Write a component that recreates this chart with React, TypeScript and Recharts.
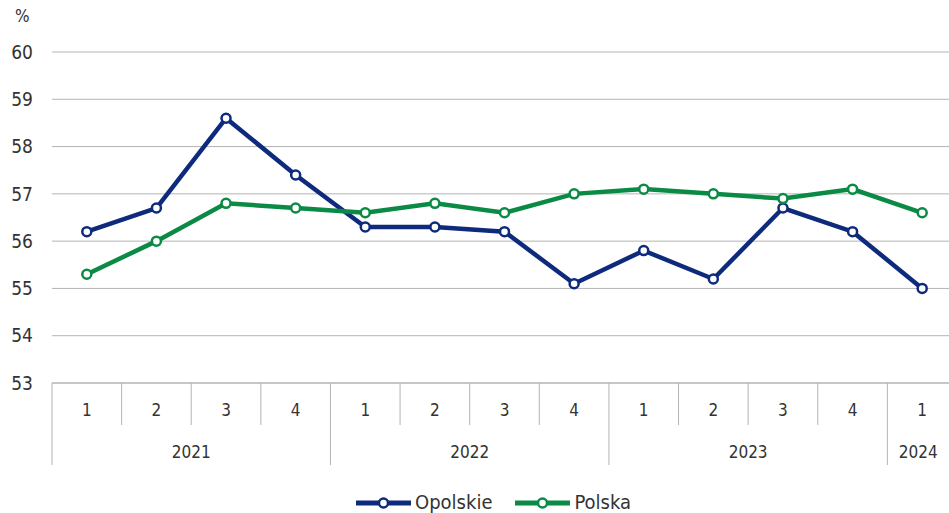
import React from 'react';
import { LineChart, Line, XAxis, YAxis, CartesianGrid } from 'recharts';

const quarters = ['1', '2', '3', '4', '1', '2', '3', '4', '1', '2', '3', '4', '1'];
const years = ['2021', '2021', '2021', '2021', '2022', '2022', '2022', '2022', '2023', '2023', '2023', '2023', '2024'];
const opolskie = [56.2, 56.7, 58.6, 57.4, 56.3, 56.3, 56.2, 55.1, 55.8, 55.2, 56.7, 56.2, 55.0];
const polska = [55.3, 56.0, 56.8, 56.7, 56.6, 56.8, 56.6, 57.0, 57.1, 57.0, 56.9, 57.1, 56.6];
const yTicks = [53, 54, 55, 56, 57, 58, 59, 60];

const W = 949;
const H = 513;
const CHART_W = 957; // plot runs slightly past the right edge, as in the source
const PLOT_LEFT = 52;
const PLOT_TOP = 52;
const PLOT_BOTTOM = 383;
const BAND = (CHART_W - PLOT_LEFT) / quarters.length;

const NAVY = '#0d2a7d';
const GREEN = '#0a8a45';
const GRID = '#b4b4b4';
const TEXT = '#333333';
const FONT = "'DejaVu Sans Condensed', 'Liberation Sans Narrow', sans-serif";

const data = quarters.map((q, i) => ({
  key: `${years[i]}-${q}-${i}`,
  q,
  year: years[i],
  opolskie: opolskie[i],
  polska: polska[i],
}));

// two-level axis: quarter numbers on top, years underneath
const QuarterTick = (props: any) => {
  const { x, payload } = props;
  const i = payload.index;
  const left = x - BAND / 2;
  const newYear = i === 0 || years[i] !== years[i - 1];
  const items: React.ReactNode[] = [];
  items.push(
    <line key="sep" x1={left} x2={left} y1={PLOT_BOTTOM} y2={newYear ? 465 : 425} stroke={GRID} strokeWidth={1} />
  );
  items.push(
    <text key="q" x={x} y={416} textAnchor="middle" fontSize={17} fill={TEXT} fontFamily={FONT}>
      {quarters[i]}
    </text>
  );
  if (newYear) {
    let n = 0;
    while (i + n < years.length && years[i + n] === years[i]) n++;
    // last year block is clipped by the window edge, so centre it in the visible part
    const right = Math.min(left + n * BAND, W);
    const cx = (left + right) / 2;
    items.push(
      <text key="y" x={cx} y={458} textAnchor="middle" fontSize={17} fill={TEXT} fontFamily={FONT}>
        {years[i]}
      </text>
    );
  }
  return <g>{items}</g>;
};

const LegendItem = ({ color, label }: { color: string; label: string }) => (
  <span style={{ display: 'inline-flex', alignItems: 'center', marginRight: 22 }}>
    <svg width={57} height={14} style={{ marginRight: 3 }}>
      <line x1={1} x2={56} y1={7} y2={7} stroke={color} strokeWidth={5} />
      <circle cx={28.5} cy={7} r={4.5} fill="#fff" stroke={color} strokeWidth={2.5} />
    </svg>
    <span>{label}</span>
  </span>
);

export default function App() {
  return (
    <div
      style={{
        position: 'absolute',
        left: 0,
        top: 0,
        width: W,
        height: H,
        overflow: 'hidden',
        background: '#fff',
        fontFamily: FONT,
      }}
    >
      <div style={{ position: 'absolute', left: 15, top: 6, fontSize: 17, color: TEXT }}>%</div>
      <LineChart
        width={CHART_W}
        height={H}
        data={data}
        margin={{ top: PLOT_TOP, right: 0, bottom: H - PLOT_BOTTOM - 90, left: 0 }}
      >
        <CartesianGrid vertical={false} stroke={GRID} strokeWidth={1} />
        <XAxis
          dataKey="key"
          height={90}
          interval={0}
          padding={{ left: BAND / 2, right: BAND / 2 }}
          axisLine={{ stroke: GRID }}
          tickLine={false}
          tick={<QuarterTick />}
        />
        <YAxis
          domain={[53, 60]}
          ticks={yTicks}
          width={PLOT_LEFT}
          axisLine={false}
          tickLine={false}
          tickSize={0}
          tickMargin={19}
          tick={{ fontSize: 19, fill: TEXT, fontFamily: FONT }}
        />
        <Line
          dataKey="opolskie"
          name="Opolskie"
          stroke={NAVY}
          strokeWidth={4.5}
          dot={{ r: 4.5, fill: '#fff', stroke: NAVY, strokeWidth: 2.5 }}
          isAnimationActive={false}
        />
        <Line
          dataKey="polska"
          name="Polska"
          stroke={GREEN}
          strokeWidth={4.5}
          dot={{ r: 4.5, fill: '#fff', stroke: GREEN, strokeWidth: 2.5 }}
          isAnimationActive={false}
        />
      </LineChart>
      <div
        style={{
          position: 'absolute',
          left: 355,
          top: 492,
          height: 21,
          lineHeight: '21px',
          whiteSpace: 'nowrap',
          fontSize: 20,
          color: TEXT,
        }}
      >
        <LegendItem color={NAVY} label="Opolskie" />
        <LegendItem color={GREEN} label="Polska" />
      </div>
    </div>
  );
}
